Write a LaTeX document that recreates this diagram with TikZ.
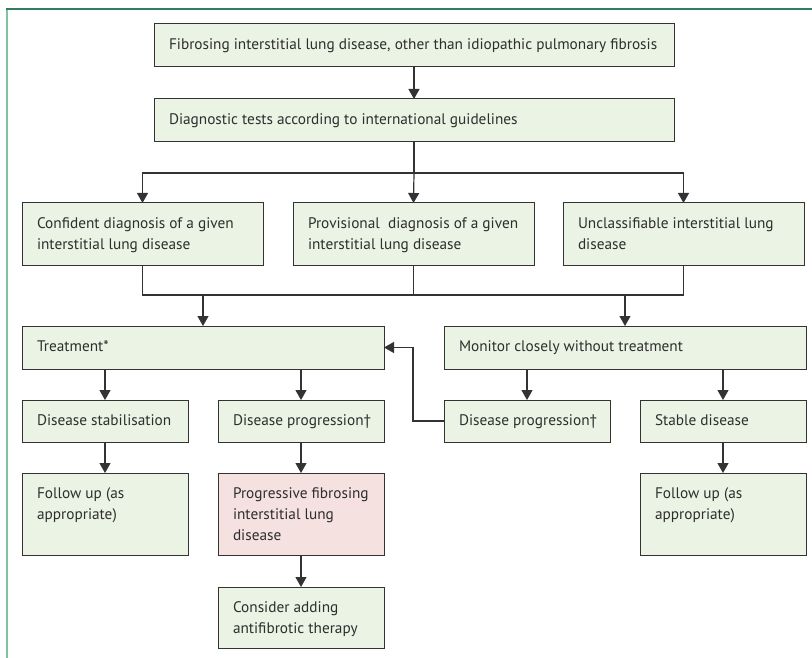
\documentclass[tikz,border=0pt]{standalone}
\usepackage{fontspec}
\setmainfont{PT Sans}
\usetikzlibrary{arrows.meta}

\definecolor{boxfill}{HTML}{EAF3E4}
\definecolor{pinkfill}{HTML}{F5E1DF}
\definecolor{boxline}{HTML}{333333}
\definecolor{frametop}{HTML}{2F7F5F}
\definecolor{frameleft}{HTML}{7CC4A2}

% texto arriba a la izquierda dentro de una caja de ancho #1 y alto #2
\newcommand{\boxtext}[3]{\parbox[t][\dimexpr#2pt-29pt\relax][t]{\dimexpr#1pt-30pt\relax}{\raggedright #3}}

\tikzset{
  box/.style={draw=boxline, fill=boxfill, line width=1pt, anchor=north west,
    inner xsep=15pt, inner ysep=14.5pt, outer sep=0pt, text=boxline!90!black,
    font=\fontsize{15.3}{21}\selectfont},
  pinkbox/.style={box, fill=pinkfill},
  conn/.style={draw=boxline, line width=1.2pt},
  arr/.style={conn, -{Triangle[width=11pt,length=10pt]}}
}

\begin{document}
\begin{tikzpicture}[x=1pt,y=-1pt]
  \useasboundingbox (0,0) rectangle (812,658);

  % Marco
  \draw[frameleft, line width=2.5pt] (7,9) -- (7,658);
  \draw[frametop, line width=1.2pt] (6,9) -- (812,9);

  % Cajas
  \node[box] (fib) at (154,24) {\boxtext{520}{43}{Fibrosing interstitial lung disease, other than idiopathic pulmonary fibrosis}};
  \node[box] (diag) at (154,99) {\boxtext{520}{43}{Diagnostic tests according to international guidelines}};

  \node[box] (conf) at (22,203) {\boxtext{241}{62}{Confident diagnosis of a given\\interstitial lung disease}};
  \node[box] (prov) at (293,203) {\boxtext{241}{62}{Provisional\ \ diagnosis of a given\\interstitial lung disease}};
  \node[box] (uncl) at (563,203) {\boxtext{241}{62}{Unclassifiable interstitial lung\\disease}};

  \node[box] (treat) at (22,326) {\boxtext{362}{43}{Treatment*}};
  \node[box] (monit) at (444,326) {\boxtext{362}{43}{Monitor closely without treatment}};

  \node[box] (stab) at (22,400) {\boxtext{166}{42}{Disease stabilisation}};
  \node[box] (prog) at (218,400) {\boxtext{166}{42}{\mbox{Disease progression\textdagger}}};
  \node[box] (progm) at (444,400) {\boxtext{166}{42}{\mbox{Disease progression\textdagger}}};
  \node[box] (stable) at (640,400) {\boxtext{166}{42}{Stable disease}};

  \node[box] (follow) at (22,473) {\boxtext{166}{82}{Follow up (as\\appropriate)}};
  \node[pinkbox] (pfild) at (218,473) {\boxtext{166}{82}{Progressive fibrosing\\interstitial lung\\disease}};
  \node[box] (followm) at (640,473) {\boxtext{166}{82}{Follow up (as\\appropriate)}};

  \node[box] (antif) at (218,587) {\boxtext{166}{61}{Consider adding\\antifibrotic therapy}};

  % Conectores
  \draw[arr] (fib) -- (diag);
  \draw[conn] (diag.south) -- ++(0,31) coordinate (fork);
  \draw[arr] (fork) -| (conf.north);
  \draw[arr] (fork) -- (prov.north);
  \draw[arr] (fork) -| (uncl.north);

  \draw[conn] (conf.south) -- ++(0,30) coordinate (join) -| (uncl.south);
  \draw[conn] (prov.south) -- (prov.south |- join);
  \draw[arr] (join -| treat.north) -- (treat.north);
  \draw[arr] (join -| monit.north) -- (monit.north);

  \draw[arr] (treat.south -| stab.north) -- (stab.north);
  \draw[arr] (treat.south -| prog.north) -- (prog.north);
  \draw[arr] (monit.south -| progm.north) -- (progm.north);
  \draw[arr] (monit.south -| stable.north) -- (stable.north);

  \draw[arr] (stab) -- (follow);
  \draw[arr] (prog) -- (pfild);
  \draw[arr] (pfild) -- (antif);
  \draw[arr] (stable) -- (followm);

  % Retorno al tratamiento
  \draw[arr] (progm.west) -- ++(-31,0) |- (treat.east);
\end{tikzpicture}
\end{document}
